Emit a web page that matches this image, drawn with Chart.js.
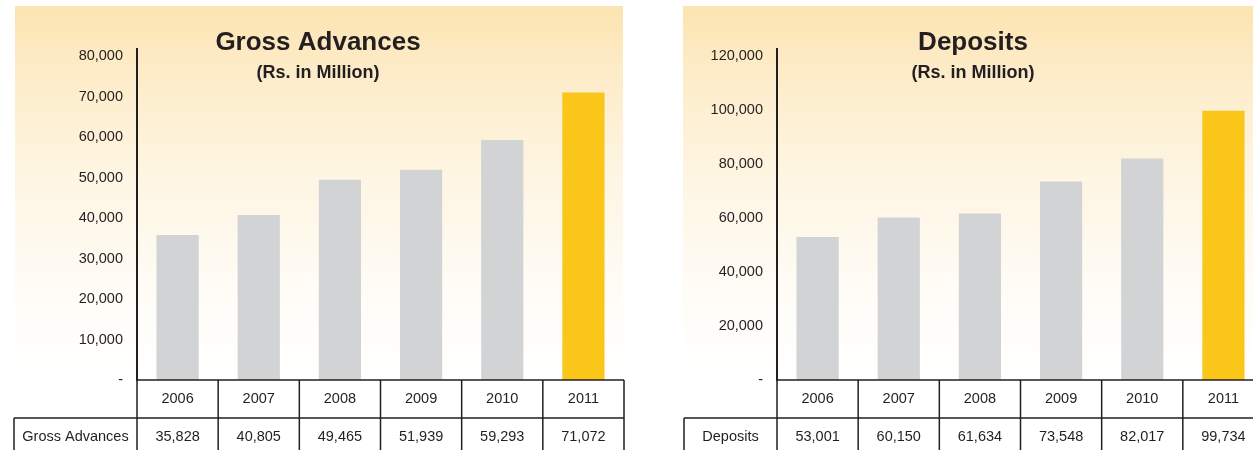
<!DOCTYPE html>
<html><head><meta charset="utf-8">
<script src="https://cdn.jsdelivr.net/npm/chart.js@4.4.1/dist/chart.umd.min.js"></script>
<style>
html,body{margin:0;padding:0;background:#fff;overflow:hidden;width:1253px;height:450px;}
#wrap{position:relative;width:1253px;height:450px;overflow:hidden;}
canvas{position:absolute;top:0;}
#c1{left:0;} #c2{left:640px;}
</style></head><body>
<div id="wrap"><canvas id="c1" width="640" height="450"></canvas><canvas id="c2" width="640" height="450"></canvas></div>
<script>
// ---- data ----
const years = ['2006', '2007', '2008', '2009', '2010', '2011'];
const grossAdvances = [35828, 40805, 49465, 51939, 59293, 71072];
const deposits = [53001, 60150, 61634, 73548, 82017, 99734];
const advancesTicks = [0, 10000, 20000, 30000, 40000, 50000, 60000, 70000, 80000];
const depositsTicks = [0, 20000, 40000, 60000, 80000, 100000, 120000];
const advancesTitle = 'Gross Advances';
const depositsTitle = 'Deposits';
const unitText = '(Rs. in Million)';

const INK = '#231F20';
const GRAY = '#D1D3D4';
const GOLD = '#FAC619';
const FONT = '"Liberation Sans", Arial, Helvetica, sans-serif';

const fmt = v => v === 0 ? '-' : v.toLocaleString('en-US');

const panelPlugin = {
  id: 'panel',
  beforeDraw(chart, args, o) {
    const ctx = chart.ctx;
    const bottom = chart.chartArea.bottom;
    const g = ctx.createLinearGradient(0, o.top, 0, bottom);
    g.addColorStop(0, '#FCE3B0');
    g.addColorStop(0.15, '#FDEBC6');
    g.addColorStop(0.45, '#FEF5E2');
    g.addColorStop(0.75, '#FFFCF6');
    g.addColorStop(1, '#FFFFFF');
    ctx.save();
    ctx.fillStyle = g;
    ctx.fillRect(o.left, o.top, o.right - o.left, bottom - o.top);
    ctx.restore();
  },
  afterDraw(chart, args, o) {
    const ctx = chart.ctx;
    const ca = chart.chartArea;
    const x = chart.scales.x;
    const labels = chart.data.labels;
    const vals = chart.data.datasets[0].data;
    const n = labels.length;
    const colW = x.getPixelForValue(1) - x.getPixelForValue(0);
    const yTop = ca.bottom, yMid = ca.bottom + 38, yBot = yMid + 38;
    ctx.save();
    // titles
    ctx.fillStyle = INK;
    ctx.textAlign = 'center';
    ctx.textBaseline = 'middle';
    ctx.font = 'bold 26px ' + FONT;
    ctx.fillText(o.title, o.titleX, 43);
    ctx.font = 'bold 18px ' + FONT;
    ctx.fillText(o.subtitle, o.titleX, 73);
    // table grid
    ctx.strokeStyle = INK;
    ctx.lineWidth = 1.5;
    ctx.beginPath();
    const xl = x.getPixelForValue(0) - colW / 2;
    const xr = x.getPixelForValue(n - 1) + colW / 2;
    ctx.moveTo(xl, yTop); ctx.lineTo(xr, yTop);
    ctx.moveTo(o.labelLeft, yMid); ctx.lineTo(xr, yMid);
    ctx.moveTo(o.labelLeft, yMid); ctx.lineTo(o.labelLeft, yBot);
    for (let i = 0; i <= n; i++) {
      const xx = x.getPixelForValue(0) - colW / 2 + i * colW;
      ctx.moveTo(xx, yTop); ctx.lineTo(xx, yBot);
    }
    ctx.stroke();
    // table text
    ctx.font = '14.5px ' + FONT;
    for (let i = 0; i < n; i++) {
      const cx = x.getPixelForValue(i);
      ctx.fillText(labels[i], cx, yTop + 19);
      ctx.fillText(vals[i].toLocaleString('en-US'), cx, yMid + 19);
    }
    ctx.fillText(o.rowLabel, (o.labelLeft + xl) / 2, yMid + 19);
    ctx.restore();
  }
};

function makeChart(id, values, ticks, yMax, panel) {
  const last = values.length - 1;
  return new Chart(document.getElementById(id), {
    type: 'bar',
    data: {
      labels: years,
      datasets: [{
        label: panel.rowLabel,
        data: values,
        backgroundColor: values.map((v, i) => i === last ? GOLD : GRAY),
        borderWidth: 0,
        categoryPercentage: 1,
        barPercentage: 0.52
      }]
    },
    options: {
      responsive: false,
      animation: false,
      devicePixelRatio: 1,
      layout: { padding: { top: 49, bottom: 70, left: 0, right: 16 } },
      plugins: {
        legend: { display: false },
        tooltip: { enabled: false },
        title: { display: false },
        panel: panel
      },
      scales: {
        x: { type: 'category', display: false, offset: true },
        y: {
          min: 0,
          max: yMax,
          grid: { display: false, drawTicks: false },
          border: { display: true, color: INK, width: 2 },
          ticks: {
            includeBounds: false,
            padding: 14,
            color: INK,
            font: { family: FONT, size: 14.5 },
            callback: v => fmt(v)
          },
          afterBuildTicks: s => { s.ticks = ticks.map(v => ({ value: v })); },
          afterFit: s => { s.width = 137; }
        }
      }
    },
    plugins: [panelPlugin]
  });
}

makeChart('c1', grossAdvances, advancesTicks, 81800, {
  left: 15, right: 623, top: 6, title: advancesTitle, subtitle: unitText,
  titleX: 318, labelLeft: 14, rowLabel: advancesTitle
});
makeChart('c2', deposits, depositsTicks, 122600, {
  left: 43, right: 640, top: 6, title: depositsTitle, subtitle: unitText,
  titleX: 333, labelLeft: 44, rowLabel: depositsTitle
});
</script>
</body></html>
